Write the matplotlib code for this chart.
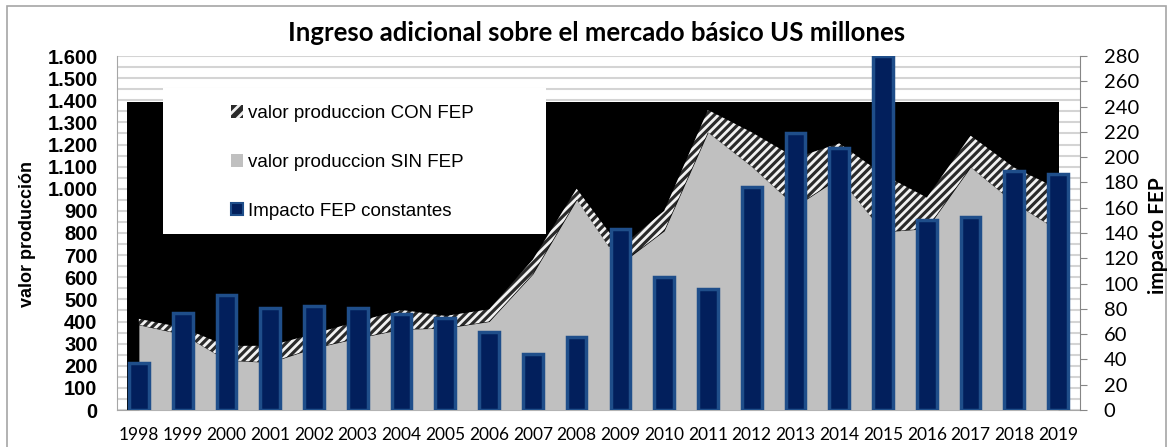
import matplotlib.pyplot as plt
import matplotlib.patches as mpatches
from matplotlib.ticker import FuncFormatter, MultipleLocator
import numpy as np

# Data
years = [str(y) for y in range(1998, 2020)]
con_fep = [412, 372, 290, 290, 345, 400, 452, 425, 455, 680, 1000, 735,
           900, 1356, 1255, 1140, 1205, 1065, 960, 1240, 1095, 1000]
sin_fep = [385, 342, 225, 215, 280, 325, 365, 370, 400, 615, 950, 660,
           810, 1255, 1100, 920, 1050, 805, 820, 1098, 935, 812]
impacto = [37, 77, 91, 81, 82, 81, 76, 73, 62, 44, 58, 143,
           105, 96, 176, 219, 207, 280, 150, 153, 189, 187]
fondo = 1390  # level of the black background block

plt.rcParams['hatch.linewidth'] = 2.0

W, H = 1169, 447
fig = plt.figure(figsize=(W / 100, H / 100), dpi=100)


def fx(px):
    return px / W


def fy(py):
    return 1 - py / H


ax = fig.add_axes([fx(117), fy(410), fx(1080) - fx(117), fy(56) - fy(410)])
x = np.arange(len(years))
ax.set_xlim(-0.5, len(years) - 0.5)
ax.set_ylim(0, 1600)
ax.yaxis.set_major_locator(MultipleLocator(100))
ax.yaxis.set_minor_locator(MultipleLocator(50))
ax.yaxis.grid(True, which='both', color='#d4d4d4', lw=1.5)
ax.set_axisbelow(True)

# background block, hatched band, grey area
ax.fill_between([-0.27, 21.03], 0, fondo, color='black', lw=0, zorder=1)
ax.fill_between(x, sin_fep, con_fep, facecolor='#2a2a2a', edgecolor='#f2f2f2',
                hatch='////', lw=0, zorder=2)
ax.fill_between(x, 0, sin_fep, color='#c0c0c0', lw=0, zorder=3)

ax.yaxis.set_major_formatter(FuncFormatter(lambda v, p: f"{int(v):,}".replace(',', '.')))
ax.tick_params(axis='y', which='both', length=0, pad=14)
for lab in ax.get_yticklabels():
    lab.set_fontfamily('Liberation Sans')
    lab.set_fontweight('bold')
    lab.set_fontsize(14.5)
ax.set_xticks(x)
ax.set_xticklabels(years, fontfamily='Lato', fontsize=12.5)
ax.tick_params(axis='x', length=0, pad=12)
for s in ['top', 'right']:
    ax.spines[s].set_visible(False)
ax.spines['left'].set_color('#a6a6a6')
ax.spines['bottom'].set_color('#a6a6a6')

# secondary axis with bars
ax2 = ax.twinx()
ax2.set_ylim(0, 280)
ax2.yaxis.set_major_locator(MultipleLocator(20))
ax2.bar(x, impacto, width=0.45, color='#021f5c', edgecolor='#1f4e8a', lw=2.5, zorder=3)
for s in ['top', 'left', 'bottom']:
    ax2.spines[s].set_visible(False)
ax2.spines['right'].set_color('#868686')
ax2.tick_params(axis='y', direction='out', length=5, color='#868686', pad=12)
for lab in ax2.get_yticklabels():
    lab.set_fontfamily('Lato')
    lab.set_fontsize(14.5)

# titles
fig.text(fx(597), fy(33), 'Ingreso adicional sobre el mercado básico US millones',
         ha='center', va='center', fontfamily='Lato', fontweight='bold', fontsize=18.5)
fig.text(fx(28), fy(234), 'valor producción', rotation=90, ha='center', va='center',
         fontfamily='Liberation Sans', fontweight='bold', fontsize=13)
fig.text(fx(1158), fy(236), 'impacto FEP', rotation=90, ha='center', va='center',
         fontfamily='Lato', fontweight='bold', fontsize=15)

# legend box
fig.patches.append(mpatches.Rectangle((fx(163), fy(234)), fx(546) - fx(163), fy(88) - fy(234),
                                      transform=fig.transFigure, facecolor='white',
                                      edgecolor='none', zorder=1))
handles = [
    mpatches.Patch(facecolor='#2a2a2a', edgecolor='#f2f2f2', hatch='///', lw=0),
    mpatches.Patch(facecolor='#c0c0c0', lw=0),
    mpatches.Patch(facecolor='#021f5c', edgecolor='#1f4e8a', lw=1.5),
]
labels = ['valor produccion CON FEP', 'valor produccion SIN FEP', 'Impacto FEP constantes']
fig.legend(handles, labels, loc='upper left', bbox_to_anchor=(fx(231), fy(105)),
           frameon=False, prop={'family': 'Liberation Sans', 'size': 13.5},
           handlelength=0.65, handleheight=0.65, handletextpad=0.25,
           labelspacing=1.7, borderpad=0, borderaxespad=0)

# outer border
fig.patches.append(mpatches.Rectangle((fx(7), -0.01), fx(1166) - fx(7), fy(6) + 0.01,
                                      transform=fig.transFigure, fill=False,
                                      edgecolor='#a6a6a6', lw=1.2, zorder=2))

fig.savefig('out.png', dpi=100)
